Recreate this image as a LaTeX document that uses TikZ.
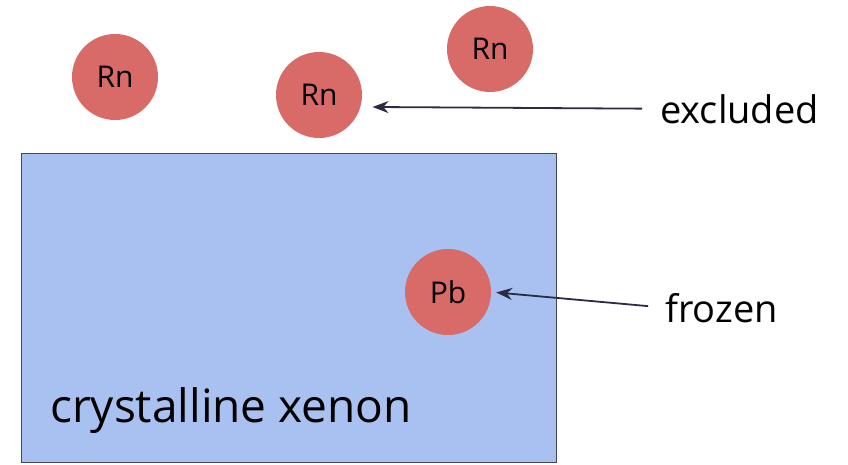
\documentclass[tikz,border=0pt]{standalone}
\usepackage{fontspec}
\setmainfont{Open Sans}
\usepackage{xcolor}
\usetikzlibrary{arrows.meta}

\definecolor{atomred}{HTML}{D86A67}
\definecolor{xenonblue}{HTML}{A9C1F0}
\definecolor{edgegray}{HTML}{44445A}
\definecolor{arrowblue}{HTML}{2B2B45}

\tikzset{
  atom/.style={circle, fill=atomred, minimum size=86pt, inner sep=0pt,
    font=\fontsize{30}{32}\selectfont},
  lbl/.style={anchor=base west, inner sep=0pt, font=\fontsize{38}{42}\selectfont},
  arr/.style={arrowblue, line width=1.8pt, -{Stealth[length=16pt,width=12pt]}}
}

\begin{document}
\begin{tikzpicture}[x=1pt,y=-1pt]
\useasboundingbox (0,0) rectangle (848,464);
\node[draw=edgegray, line width=1.4pt, fill=xenonblue, anchor=north west,
  minimum width=535pt, minimum height=309pt, inner sep=0pt] (xtal) at (21,153) {};
\node[lbl, font=\fontsize{46}{50}\selectfont] (xtallbl) at (50,422) {crystalline xenon};
\node[atom] (rnA) at (115,77) {Rn};
\node[atom] (rnB) at (319,95) {Rn};
\node[atom] (rnC) at (490,49) {Rn};
\node[atom] (pb) at (448,292) {Pb};
\node[lbl] (excluded) at (660,123) {excluded};
\node[lbl] (frozen) at (665,322) {frozen};
\draw[arr, shorten <=18pt, shorten >=12pt] (excluded.west) -- (rnB.-16);
\draw[arr, shorten <=17pt, shorten >=5pt] (frozen.west) -- (pb.east);
\end{tikzpicture}
\end{document}
